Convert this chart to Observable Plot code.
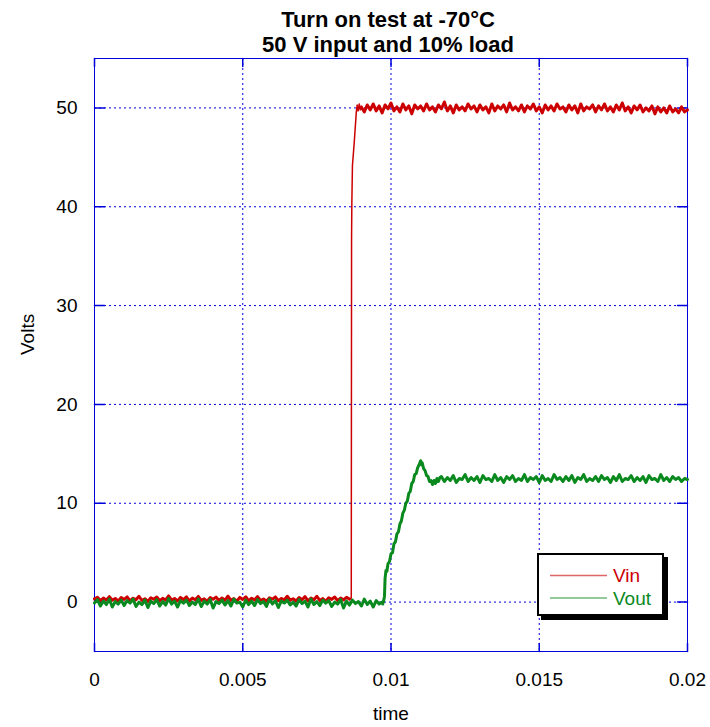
<!DOCTYPE html>
<html>
<head>
<meta charset="utf-8">
<script src="https://cdn.jsdelivr.net/npm/d3@7"></script>
<script src="https://cdn.jsdelivr.net/npm/@observablehq/plot@0.6"></script>
<style>
  html, body { margin: 0; padding: 0; background: #fff; }
  #chart { position: relative; width: 710px; height: 727px; font-family: "Liberation Sans", Arial, sans-serif; }
  #legend {
    position: absolute; left: 537px; top: 553px; width: 123px; height: 59px;
    background: #fff; border: 2px solid #000; box-shadow: 4px 4px 0 #000;
  }
  #legend svg { position: absolute; left: 0; top: 0; }
</style>
</head>
<body>
<div id="chart"></div>
<script>
// Scope capture: input and output voltage during turn-on at -70°C.
const sampleStep = 0.0001; // s between stored samples on the flat stretches

// Vin before the input is switched on (t = 0 … 0.0086 s)
const vinBefore = [
  0.32,0.48,0.15,0.41,0.22,0.55,0.18,0.37,0.09,0.46,0.27,0.52,0.12,0.39,0.24,0.58,0.16,0.34,0.07,0.44,
  0.29,0.51,0.14,0.38,0.21,0.62,0.19,0.36,0.11,0.47,0.25,0.53,0.13,0.4,0.23,0.57,0.17,0.33,0.08,0.45,
  0.28,0.5,0.15,0.42,0.2,0.6,0.18,0.35,0.1,0.48,0.26,0.54,0.12,0.39,0.22,0.56,0.16,0.31,0.09,0.43,
  0.3,0.52,0.14,0.37,0.21,0.59,0.19,0.34,0.11,0.46,0.24,0.55,0.13,0.41,0.23,0.58,0.17,0.36,0.08,0.44,
  0.27,0.51,0.15,0.4,0.22,0.49,0.3
];
// Vin switching edge, [time, volts]
const vinEdge = [
  [0.00864,0.35],[0.00866,0.4],[0.00867,37.0],[0.00868,40.5],[0.00870,44.2],[0.00876,46.5],
  [0.00883,49.6],[0.00886,50.3],[0.00889,49.7],[0.00893,50.4],[0.00896,49.8]
];
// Vin after the edge (t = 0.0090 … 0.0200 s)
const vinAfter = [
  50.1,49.6,50.3,49.8,50.4,49.7,50.2,49.5,50.3,49.9,50.5,49.7,50.1,49.6,50.4,49.8,50.2,49.4,50.3,49.9,
  50.2,49.7,50.4,49.8,50.1,49.6,50.3,49.9,50.6,49.7,50.2,49.5,50.3,49.8,50.1,49.7,50.4,49.9,50.2,49.6,
  50.3,49.8,50.1,49.5,50.4,49.7,50.2,49.9,50.3,49.6,50.5,49.8,50.1,49.7,50.3,49.6,50.2,49.9,50.4,49.7,
  50.1,49.5,50.3,49.8,50.2,49.7,50.4,49.9,50.1,49.6,50.3,49.8,50.2,49.5,50.4,49.7,50.1,49.9,50.3,49.6,
  50.2,49.8,50.4,49.7,50.1,49.6,50.3,49.8,50.5,49.7,50.1,49.5,50.2,49.8,50.3,49.6,50.0,49.7,50.2,49.4,
  50.1,49.6,50.0,49.5,50.2,49.6,49.9,49.5,50.1,49.6,49.8
];

// Vout before the converter starts (t = 0 … 0.0097 s)
const voutBefore = [
  -0.1,0.25,-0.4,0.1,-0.25,0.3,-0.5,0.05,-0.2,0.2,-0.35,0.15,-0.1,0.3,-0.45,0.0,-0.25,0.2,-0.55,0.1,
  -0.15,0.25,-0.4,0.05,-0.3,0.35,-0.2,0.1,-0.5,0.15,-0.1,0.2,-0.35,0.0,-0.25,0.3,-0.45,0.1,-0.2,0.25,
  -0.6,0.05,-0.15,0.2,-0.3,0.15,-0.4,0.3,-0.1,0.0,-0.5,0.2,-0.25,0.1,-0.35,0.25,-0.15,0.05,-0.45,0.3,
  -0.2,0.15,-0.55,0.1,-0.1,0.2,-0.3,0.0,-0.4,0.25,-0.15,0.1,-0.5,0.3,-0.25,0.05,-0.35,0.2,-0.1,0.15,
  -0.45,0.0,-0.2,0.25,-0.6,0.1,-0.3,0.2,-0.15,0.05,-0.4,0.3,-0.25,0.1,-0.5,0.15,-0.2,0.0
];
// Vout soft-start ramp and overshoot, [time, volts]
const voutRamp = [
  [0.00972,-0.2],[0.00975,0.1],[0.00978,0.6],[0.00980,2.4],[0.00983,3.2],[0.00986,3.1],
  [0.00990,3.9],[0.00995,4.1],[0.01000,4.9],[0.01005,5.0],[0.01010,5.9],[0.01015,6.1],
  [0.01020,6.9],[0.01025,7.1],[0.01030,7.9],[0.01035,8.2],[0.01040,9.0],[0.01045,9.3],
  [0.01050,10.0],[0.01055,10.2],[0.01060,11.0],[0.01065,11.2],[0.01070,12.0],[0.01075,12.2],
  [0.01080,12.9],[0.01085,13.0],[0.01090,13.6],[0.01095,13.9],[0.01100,14.3],[0.01103,13.9],
  [0.01105,14.1],[0.01110,13.5],[0.01115,13.3],[0.01120,12.8],[0.01125,12.7],[0.01130,12.2],
  [0.01135,12.3],[0.01140,11.9],[0.01145,12.3],[0.01150,12.0],[0.01155,12.5],[0.01160,12.2],
  [0.01165,12.6]
];
// Vout regulated (t = 0.0117 … 0.0200 s)
const voutAfter = [
  12.7,12.2,12.6,12.3,12.8,12.1,12.5,12.4,12.9,12.2,12.6,12.3,12.7,12.1,12.8,12.4,12.5,12.2,12.9,12.3,
  12.6,12.1,12.7,12.4,12.8,12.2,12.5,12.3,12.9,12.2,12.6,12.4,12.7,12.1,12.8,12.3,12.5,12.2,12.9,12.4,
  12.6,12.2,12.7,12.3,12.8,12.1,12.6,12.4,12.9,12.2,12.5,12.3,12.7,12.2,12.8,12.4,12.6,12.1,12.7,12.3,
  12.9,12.2,12.5,12.4,12.8,12.2,12.6,12.3,12.7,12.1,12.8,12.4,12.5,12.2,12.9,12.3,12.6,12.2,12.7,12.4,
  12.6,12.2,12.5,12.4
];

const xTicks = [0, 0.005, 0.01, 0.015, 0.02];
const xTickLabels = ["0", "0.005", "0.01", "0.015", "0.02"];
const yTicks = [0, 10, 20, 30, 40, 50];
const titleLines = ["Turn on test at -70°C", "50 V input and 10% load"];
const seriesNames = ["Vin", "Vout"];
const seriesColors = ["#cc0000", "#0a8a1e"];

const sampled = (values, start) => values.map((v, i) => ({t: +(start + i * sampleStep).toFixed(6), v}));
const pairs = (list) => list.map(([t, v]) => ({t, v}));

// Vin is split so the noisy plateaus render as a thick band and the fast edge stays thin
const vinLow = sampled(vinBefore, 0);
const vinHigh = sampled(vinAfter, 0.009);
const vinStep = [vinLow[vinLow.length - 1], ...pairs(vinEdge), vinHigh[0]];
const vout = [...sampled(voutBefore, 0), ...pairs(voutRamp), ...sampled(voutAfter, 0.0117)];

const blue = "#0000dd";
const font = "'Liberation Sans', Arial, sans-serif";

// short straight tick drawn from the anchor point in the vector's direction
const tickShape = {draw(context, length) { context.moveTo(0, 0); context.lineTo(0, -length); }};
const inwardTicks = [
  Plot.vector(xTicks, {x: d => d, y: () => -5, rotate: 0, length: 8, anchor: "start", shape: tickShape, stroke: blue}),
  Plot.vector(xTicks, {x: d => d, y: () => 55, rotate: 180, length: 8, anchor: "start", shape: tickShape, stroke: blue}),
  Plot.vector(yTicks, {x: () => 0, y: d => d, rotate: 90, length: 10, anchor: "start", shape: tickShape, stroke: blue}),
  Plot.vector(yTicks, {x: () => 0.02, y: d => d, rotate: -90, length: 10, anchor: "start", shape: tickShape, stroke: blue})
];

const chart = Plot.plot({
  width: 710,
  height: 727,
  marginLeft: 94,
  marginRight: 23,
  marginTop: 58,
  marginBottom: 76,
  style: {fontFamily: font, fontSize: "19px", color: "#000", background: "#fff"},
  x: {domain: [0, 0.02]},
  y: {domain: [-5, 55]},
  marks: [
    Plot.gridX(xTicks, {stroke: blue, strokeOpacity: 1, strokeDasharray: "2,3"}),
    Plot.gridY(yTicks, {stroke: blue, strokeOpacity: 1, strokeDasharray: "2,3"}),
    Plot.frame({stroke: blue, strokeWidth: 1}),
    ...inwardTicks,
    // tick labels
    Plot.axisX(xTicks, {anchor: "bottom", tickSize: 0, tickPadding: 21, label: null,
      tickFormat: (d, i) => xTickLabels[i], fontSize: 19, fill: "#000"}),
    Plot.axisY(yTicks, {anchor: "left", tickSize: 0, tickPadding: 17, label: null,
      tickFormat: d => String(d), fontSize: 19, fill: "#000"}),
    // traces
    Plot.line(vinLow, {x: "t", y: "v", stroke: seriesColors[0], strokeWidth: 3}),
    Plot.line(vinStep, {x: "t", y: "v", stroke: seriesColors[0], strokeWidth: 1.5}),
    Plot.line(vinHigh, {x: "t", y: "v", stroke: seriesColors[0], strokeWidth: 3}),
    Plot.line(vout, {x: "t", y: "v", stroke: seriesColors[1], strokeWidth: 3}),
    // titles and axis names
    Plot.text([titleLines[0]], {text: d => d, frameAnchor: "top", lineAnchor: "middle", dx: -3, dy: -39,
      fontWeight: "bold", fontSize: 22, fill: "#000"}),
    Plot.text([titleLines[1]], {text: d => d, frameAnchor: "top", lineAnchor: "middle", dx: -3, dy: -14,
      fontWeight: "bold", fontSize: 22, fill: "#000"}),
    Plot.text(["time"], {text: d => d, frameAnchor: "bottom", lineAnchor: "middle", dy: 62, fontSize: 19, fill: "#000"}),
    Plot.text(["Volts"], {text: d => d, frameAnchor: "left", dx: -67, rotate: -90, fontSize: 19, fill: "#000"})
  ]
});

const root = document.getElementById("chart");
root.appendChild(chart);

// Legend box with drop shadow in the lower right of the plot area
const legend = document.createElement("div");
legend.id = "legend";
const ns = "http://www.w3.org/2000/svg";
const lsvg = document.createElementNS(ns, "svg");
lsvg.setAttribute("width", "123");
lsvg.setAttribute("height", "59");
seriesNames.forEach((name, i) => {
  const y = 20.5 + i * 22.5;
  const line = document.createElementNS(ns, "line");
  line.setAttribute("x1", 11); line.setAttribute("x2", 68);
  line.setAttribute("y1", y); line.setAttribute("y2", y);
  line.setAttribute("stroke", seriesColors[i]);
  line.setAttribute("stroke-opacity", "0.6");
  line.setAttribute("stroke-width", "1.5");
  lsvg.appendChild(line);
  const txt = document.createElementNS(ns, "text");
  txt.setAttribute("x", 74);
  txt.setAttribute("y", y + 6.5);
  txt.setAttribute("fill", seriesColors[i]);
  txt.setAttribute("font-size", "19");
  txt.setAttribute("font-family", font);
  txt.textContent = name;
  lsvg.appendChild(txt);
});
legend.appendChild(lsvg);
root.appendChild(legend);
</script>
</body>
</html>
